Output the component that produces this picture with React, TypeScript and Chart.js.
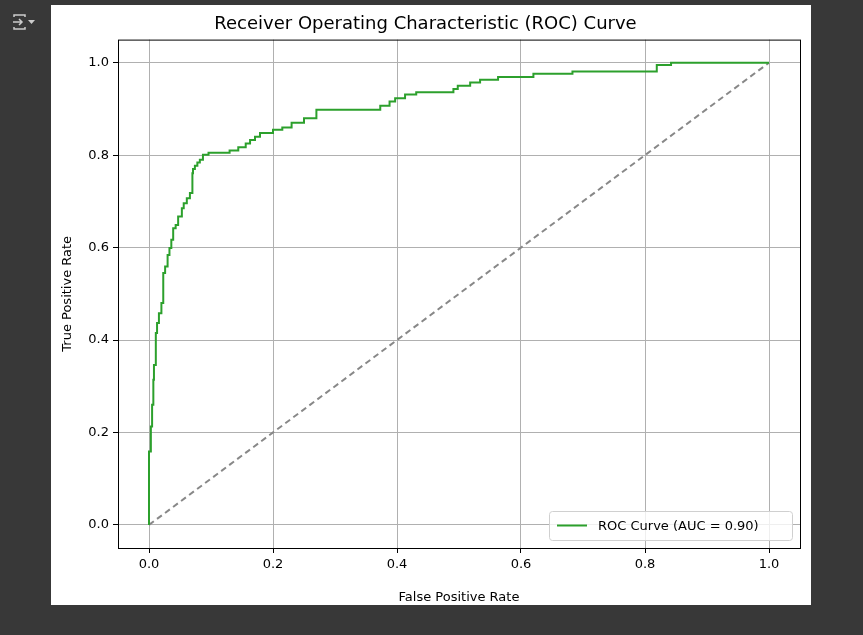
import React, { useEffect, useRef } from 'react';
import { Chart, registerables } from 'chart.js';

Chart.register(...registerables);

// ROC corner points: at each fpr the tpr rises to the given value
const fpr = [0, 0, 0.003, 0.005, 0.007, 0.008, 0.011, 0.013, 0.016, 0.02, 0.023, 0.026, 0.03, 0.033, 0.036, 0.039, 0.043, 0.047, 0.053, 0.056, 0.061, 0.066, 0.07, 0.071, 0.074, 0.078, 0.082, 0.087, 0.096, 0.13, 0.144, 0.156, 0.163, 0.171, 0.179, 0.2, 0.215, 0.23, 0.25, 0.27, 0.3, 0.373, 0.388, 0.397, 0.413, 0.431, 0.491, 0.498, 0.518, 0.534, 0.563, 0.62, 0.683, 0.819, 0.842, 0.945, 1.0];
const tpr = [0, 0.097, 0.159, 0.213, 0.26, 0.314, 0.346, 0.415, 0.437, 0.458, 0.48, 0.545, 0.559, 0.584, 0.599, 0.617, 0.642, 0.649, 0.667, 0.685, 0.696, 0.707, 0.718, 0.761, 0.77, 0.777, 0.784, 0.79, 0.801, 0.805, 0.81, 0.817, 0.825, 0.833, 0.84, 0.848, 0.855, 0.86, 0.87, 0.88, 0.898, 0.898, 0.907, 0.916, 0.923, 0.931, 0.936, 0.943, 0.95, 0.957, 0.963, 0.969, 0.976, 0.981, 0.995, 1.0, 1.0];
const diagonal = [0, 1];
const ticks = [0, 0.2, 0.4, 0.6, 0.8, 1.0];
const legendLabel = 'ROC Curve (AUC = 0.90)';

const FONT = 'DejaVu Sans';

const framePlugin = {
  id: 'frame',
  afterDraw(chart: any) {
    const { ctx, chartArea: a } = chart;
    ctx.save();
    ctx.strokeStyle = '#000';
    ctx.lineWidth = 1;
    ctx.strokeRect(a.left + 0.5, a.top + 0.5, a.right - a.left, a.bottom - a.top);
    // legend box, bottom right
    const w = 243, h = 29;
    const x = a.right - 8 - w, y = a.bottom - 8 - h;
    ctx.fillStyle = 'rgba(255,255,255,0.8)';
    ctx.strokeStyle = '#d0d0d0';
    ctx.beginPath();
    ctx.roundRect(x + 0.5, y + 0.5, w, h, 3);
    ctx.fill();
    ctx.stroke();
    ctx.strokeStyle = '#2ca02c';
    ctx.lineWidth = 2;
    ctx.beginPath();
    ctx.moveTo(x + 8, y + h / 2);
    ctx.lineTo(x + 38, y + h / 2);
    ctx.stroke();
    ctx.fillStyle = '#000';
    ctx.font = `13px "${FONT}"`;
    ctx.textBaseline = 'middle';
    ctx.fillText(legendLabel, x + 49, y + h / 2 + 1);
    ctx.restore();
  },
};

const App = () => {
  const chartRef = useRef<HTMLCanvasElement>(null);
  const chartInstanceRef = useRef<Chart>();

  useEffect(() => {
    if (!chartRef.current) return;
    const ctx = chartRef.current.getContext('2d');
    if (!ctx) return;
    if (chartInstanceRef.current) chartInstanceRef.current.destroy();

    const axis = (title: string, isY: boolean) => ({
      type: 'linear' as const,
      min: -0.05,
      max: 1.05,
      afterBuildTicks: (s: any) => {
        s.ticks = ticks.map((v) => ({ value: v }));
      },
      afterFit: (s: any) => {
        if (isY) s.width = 67;
        else s.height = 57;
      },
      grid: { color: '#b0b0b0', lineWidth: 1, tickColor: '#000', tickLength: 5 },
      border: { display: false },
      ticks: {
        color: '#000',
        font: { family: FONT, size: 13 },
        padding: 4,
        callback: (v: any) => Number(v).toFixed(1),
      },
      title: {
        display: true,
        text: title,
        color: '#000',
        font: { family: FONT, size: 13 },
        padding: { top: isY ? 9 : 10, bottom: 0 },
      },
    });

    chartInstanceRef.current = new Chart(ctx, {
      type: 'line',
      data: {
        datasets: [
          {
            label: legendLabel,
            data: fpr.map((x, i) => ({ x, y: tpr[i] })),
            borderColor: '#2ca02c',
            borderWidth: 2,
            pointRadius: 0,
            stepped: 'after',
          },
          {
            label: 'chance',
            data: diagonal.map((v) => ({ x: v, y: v })),
            borderColor: '#888888',
            borderWidth: 2,
            borderDash: [6, 4],
            pointRadius: 0,
          },
        ],
      },
      options: {
        animation: false,
        responsive: false,
        layout: { padding: { left: 0, right: 11, top: 0, bottom: 0 } },
        plugins: {
          legend: { display: false },
          tooltip: { enabled: false },
          title: {
            display: true,
            text: 'Receiver Operating Characteristic (ROC) Curve',
            color: '#000',
            font: { family: FONT, size: 18, weight: 'normal' },
            padding: { top: 9, bottom: 4 },
          },
        },
        scales: { x: axis('False Positive Rate', false), y: axis('True Positive Rate', true) },
      },
      plugins: [framePlugin],
    });

    return () => {
      if (chartInstanceRef.current) chartInstanceRef.current.destroy();
    };
  }, []);

  return (
    <div style={{ position: 'fixed', inset: 0, background: '#383838' }}>
      <svg width="24" height="20" style={{ position: 'absolute', left: 12, top: 12 }} viewBox="0 0 24 20">
        <path d="M2 5 V3 H13 V5 M2 15 V17 H13 V15 M1 10 H10 M7 7 L10 10 L7 13" stroke="#ccc" strokeWidth="1.5" fill="none" />
        <path d="M16 8 H23 L19.5 12 Z" fill="#ccc" />
      </svg>
      <div style={{ position: 'absolute', left: 51, top: 5, width: 760, height: 600, background: '#fff' }}>
        <canvas ref={chartRef} width={760} height={600} />
      </div>
    </div>
  );
};

export default App;
